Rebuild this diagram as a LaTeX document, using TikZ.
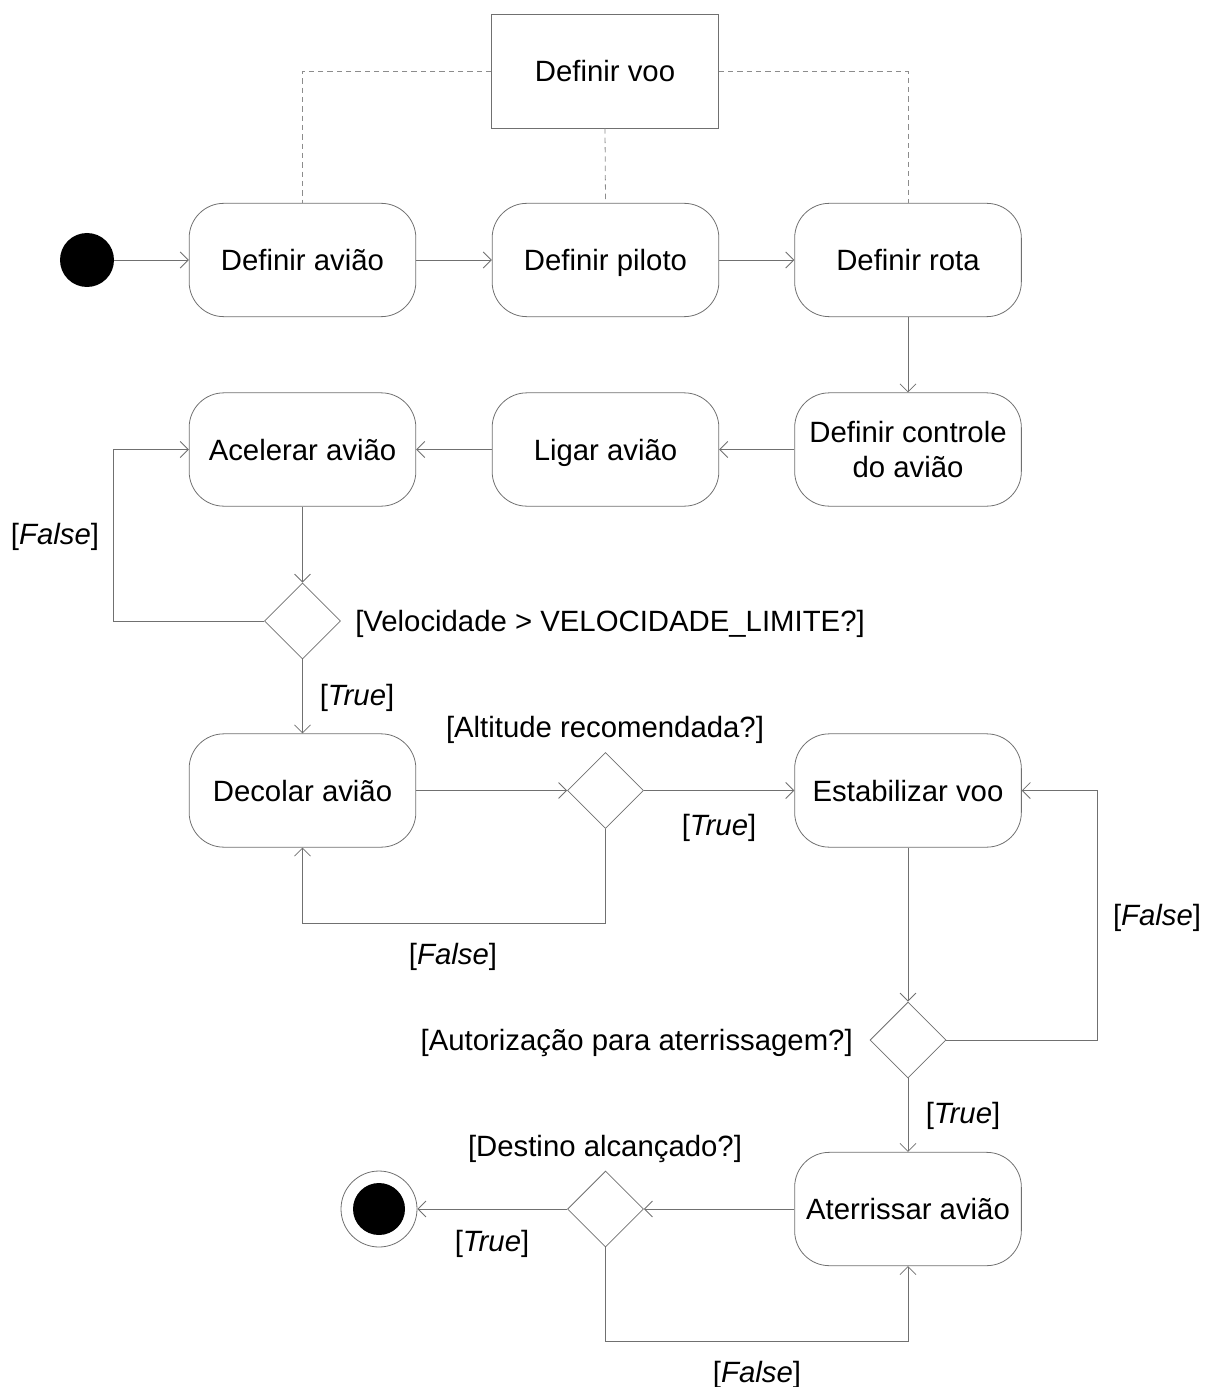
\documentclass[tikz,border=0pt]{standalone}
\usepackage{fontspec}
\setmainfont{Liberation Sans}
\usetikzlibrary{arrows.meta,shapes.geometric}
\definecolor{linec}{RGB}{112,112,112}
\definecolor{dashc}{RGB}{140,140,140}
\begin{document}
\begin{tikzpicture}[x=0.75pt,y=-0.75pt,
  font=\fontsize{22}{26}\selectfont,
  action/.style={draw=linec, line width=0.6pt, rounded corners=26pt,
    minimum width=170pt, minimum height=85pt, align=center, inner sep=0pt},
  oneline/.style={action, text height=15.8pt, text depth=0pt},
  plainbox/.style={draw=linec, line width=0.6pt,
    minimum width=170pt, minimum height=85.5pt, inner sep=0pt,
    text height=15.8pt, text depth=0pt},
  decision/.style={draw=linec, line width=0.6pt, diamond,
    minimum width=57pt, minimum height=57pt, inner sep=0pt},
  flow/.style={draw=linec, line width=0.6pt,
    -{Straight Barb[length=6pt,width=12pt]}},
  link/.style={draw=dashc, line width=0.6pt, dash pattern=on 4pt off 3pt},
  guard/.style={inner sep=0pt, yshift=-2.2pt}]
\useasboundingbox (0,0) rectangle (1204,1387);

% actions
\node[plainbox] (voo) at (605,71) {Definir voo};
\node[oneline] (aviao) at (302.5,260) {Definir avião};
\node[oneline] (piloto) at (605.5,260) {Definir piloto};
\node[oneline] (rota) at (908,260) {Definir rota};
\node[action] (controle) at (908,449.5) {Definir controle\\do avião};
\node[oneline] (ligar) at (605.5,449.5) {Ligar avião};
\node[oneline] (acelerar) at (302.5,449.5) {Acelerar avião};
\node[oneline] (decolar) at (302.5,790.5) {Decolar avião};
\node[oneline] (estab) at (908,790.5) {Estabilizar voo};
\node[oneline] (aterr) at (908,1209) {Aterrissar avião};

% decisions
\node[decision] (d1) at (302.5,621) {};
\node[decision] (d2) at (605.5,790.5) {};
\node[decision] (d3) at (908,1040) {};
\node[decision] (d4) at (605.5,1209) {};

% start and end
\node[circle, fill=black, minimum size=40.5pt, inner sep=0pt] (ini) at (87,260) {};
\node[circle, draw=linec, line width=0.6pt, minimum size=57pt, inner sep=0pt] (fim) at (379,1209) {};
\node[circle, fill=black, minimum size=39pt, inner sep=0pt] (fimdot) at (379,1209) {};

% dependencies of the flight definition
\draw[link] (voo.west) -| (aviao.north);
\draw[link] (voo.east) -| (rota.north);
\draw[link] (voo.south) -- (piloto.north);

% control flow
\draw[flow] (ini) -- (aviao);
\draw[flow] (aviao) -- (piloto);
\draw[flow] (piloto) -- (rota);
\draw[flow] (rota) -- (controle);
\draw[flow] (controle) -- (ligar);
\draw[flow] (ligar) -- (acelerar);
\draw[flow] (acelerar) -- (d1);
\draw[flow] (d1.west) -- (113,621) |- (acelerar.west);
\draw[flow] (d1) -- (decolar);
\draw[flow] (decolar) -- (d2);
\draw[flow] (d2) -- (estab);
\draw[flow] (d2.south) -- (605.5,923) -| (decolar.south);
\draw[flow] (estab) -- (d3);
\draw[flow] (d3.east) -- (1097,1040) |- (estab.east);
\draw[flow] (d3) -- (aterr);
\draw[flow] (aterr) -- (d4);
\draw[flow] (d4) -- (fim);
\draw[flow] (d4.south) -- (605.5,1341) -| (aterr.south);

% guards
\node[guard] (g1f) at (55,534) {[\textit{False}]};
\node[guard, anchor=west] (g1) at (355,621) {[Velocidade > VELOCIDADE\_LIMITE?]};
\node[guard] (g1t) at (357,695) {[\textit{True}]};
\node[guard] (g2) at (605,727) {[Altitude recomendada?]};
\node[guard] (g2t) at (719,825) {[\textit{True}]};
\node[guard] (g2f) at (453,954) {[\textit{False}]};
\node[guard] (g3f) at (1157,915) {[\textit{False}]};
\node[guard, anchor=east] (g3) at (853,1040) {[Autorização para aterrissagem?]};
\node[guard] (g3t) at (963,1113) {[\textit{True}]};
\node[guard] (g4) at (605,1146) {[Destino alcançado?]};
\node[guard] (g4t) at (492,1241) {[\textit{True}]};
\node[guard] (g4f) at (757,1372) {[\textit{False}]};
\end{tikzpicture}
\end{document}
